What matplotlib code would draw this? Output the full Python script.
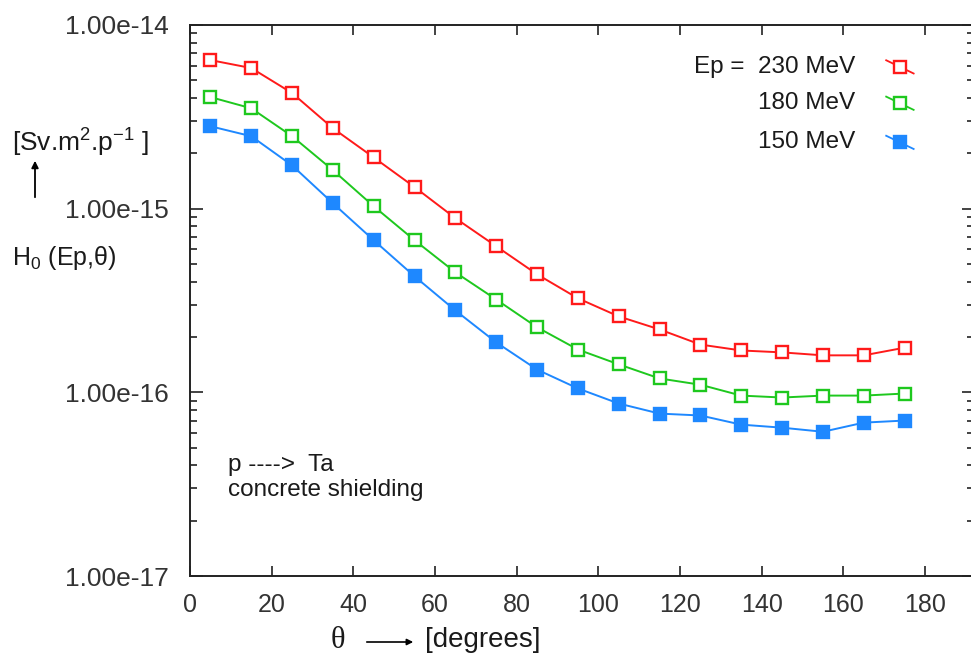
import numpy as np
import matplotlib
matplotlib.use("Agg")
import matplotlib.pyplot as plt
from matplotlib.ticker import FixedLocator, FuncFormatter, NullFormatter

plt.rcParams['font.family'] = ['Liberation Sans', 'DejaVu Sans']
plt.rcParams['mathtext.fontset'] = 'custom'
plt.rcParams['mathtext.rm'] = 'Liberation Sans'
plt.rcParams['mathtext.it'] = 'Liberation Sans'

# angles (degrees)
theta = [5, 15, 25, 35, 45, 55, 65, 75, 85, 95, 105, 115, 125, 135, 145, 155, 165, 175]

# H0 values [Sv.m2.p-1]
h_230 = [6.44e-15, 5.83e-15, 4.26e-15, 2.74e-15, 1.90e-15, 1.31e-15, 8.87e-16, 6.24e-16,
         4.39e-16, 3.25e-16, 2.59e-16, 2.20e-16, 1.82e-16, 1.69e-16, 1.65e-16, 1.59e-16,
         1.59e-16, 1.75e-16]
h_180 = [4.05e-15, 3.52e-15, 2.48e-15, 1.62e-15, 1.03e-15, 6.73e-16, 4.50e-16, 3.20e-16,
         2.26e-16, 1.71e-16, 1.42e-16, 1.19e-16, 1.10e-16, 9.60e-17, 9.37e-17, 9.60e-17,
         9.60e-17, 9.85e-17]
h_150 = [2.81e-15, 2.48e-15, 1.72e-15, 1.07e-15, 6.73e-16, 4.28e-16, 2.79e-16, 1.87e-16,
         1.33e-16, 1.05e-16, 8.69e-17, 7.66e-17, 7.48e-17, 6.67e-17, 6.42e-17, 6.10e-17,
         6.84e-17, 7.02e-17]

labels = ['Ep =  230 MeV', '180 MeV', '150 MeV']
colors = ['#ff1a1a', '#1ec81e', '#1e88ff']
series = [h_230, h_180, h_150]
filled = [False, False, True]

y_major = [1e-17, 1e-16, 1e-15, 1e-14]
y_minor = [m * 10.0 ** e for e in (-17, -16, -15) for m in range(2, 10)]

W, H = 971, 662
fig = plt.figure(figsize=(W / 100, H / 100), dpi=100)
ax = fig.add_axes([190 / W, 1 - 576 / H, (974 - 190) / W, (576 - 25) / H])

for y, c, f in zip(series, colors, filled):
    ax.plot(theta, y, color=c, lw=1.4, marker='s', ms=9,
            mfc=c if f else 'white', mec=c, mew=1.7)

ax.set_yscale('log')
ax.set_xlim(0, 192)
ax.set_ylim(1e-17, 1e-14)
ax.set_xticks(np.arange(0, 181, 20))
ax.yaxis.set_major_locator(FixedLocator(y_major))
ax.yaxis.set_minor_locator(FixedLocator(y_minor))
ax.yaxis.set_minor_formatter(NullFormatter())
ax.yaxis.set_major_formatter(FuncFormatter(lambda v, p: '%.2e' % v))

ax.tick_params(which='both', direction='in', top=True, right=True, colors='#222222')
ax.tick_params(axis='y', which='major', length=9, width=1.2, pad=15, labelsize=19)
ax.tick_params(axis='y', which='minor', length=5, width=1.2)
ax.tick_params(axis='x', which='major', length=7, width=1.2, pad=12, labelsize=18)
for lab in ax.get_yticklabels():
    lab.set_color('#333333')
for lab in ax.get_xticklabels():
    lab.set_color('#333333')
for sp in ax.spines.values():
    sp.set_linewidth(1.4)
    sp.set_color('#222222')

# key, right aligned text with sample to the right
key_y = [0.924, 0.858, 0.787]
for lab, c, f, ky in zip(labels, colors, filled, key_y):
    ax.text(0.848, ky, lab, transform=ax.transAxes, ha='right', va='center',
            fontsize=17.5, color='#1a1a1a')
    ax.plot([0.888, 0.923], [ky + 0.012, ky - 0.012], transform=ax.transAxes,
            color=c, lw=1.3)
    ax.plot([0.905], [ky], transform=ax.transAxes, marker='s', ms=9,
            mfc=c if f else 'white', mec=c, mew=1.7)

ax.text(38 / 784, (576 - 465) / 551, 'p ---->  Ta',
        transform=ax.transAxes, ha='left', va='center', fontsize=17.5, color='#1a1a1a')
ax.text(38 / 784, (576 - 490) / 551, 'concrete shielding',
        transform=ax.transAxes, ha='left', va='center', fontsize=17.5, color='#1a1a1a')

# y label pieces
fig.text(12 / W, 1 - 143 / H, r'[Sv.m$^{2}$.p$^{-1}$ ]', ha='left', va='center',
         fontsize=19, color='#1a1a1a')
fig.text(12 / W, 1 - 258 / H, r'H$_{0}$ (Ep,θ)', ha='left', va='center',
         fontsize=18, color='#1a1a1a')
ax.annotate('', xy=(35 / W, 1 - 158 / H), xytext=(35 / W, 1 - 200 / H),
            xycoords='figure fraction', textcoords='figure fraction',
            arrowprops=dict(arrowstyle='-|>', color='black', lw=1.3,
                            mutation_scale=10))

# x label pieces
fig.text(338 / W, 1 - 640 / H, 'θ', ha='center', va='center',
         fontsize=22, color='#1a1a1a', family=['Liberation Serif', 'DejaVu Serif'])
ax.annotate('', xy=(416 / W, 1 - 642 / H), xytext=(364 / W, 1 - 642 / H),
            xycoords='figure fraction', textcoords='figure fraction',
            arrowprops=dict(arrowstyle='-|>', color='black', lw=1.2,
                            mutation_scale=9))
fig.text(425 / W, 1 - 640 / H, '[degrees]', ha='left', va='center',
         fontsize=20, color='#1a1a1a')

fig.savefig('out.png', dpi=100)
